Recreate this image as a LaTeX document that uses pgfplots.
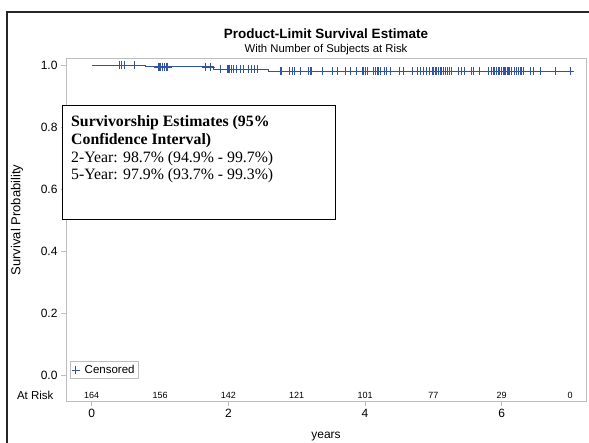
\documentclass[border=0pt]{standalone}
\usepackage{pgfplots}
\pgfplotsset{compat=1.18}
\usepackage{fontspec}
\setmainfont{Liberation Sans}
\newfontfamily\tnr{Liberation Serif}
\definecolor{kmblue}{HTML}{3053A8}
\definecolor{framegray}{HTML}{BDBDBD}
\begin{document}
\begin{tikzpicture}[x=1pt,y=1pt]
\path[use as bounding box] (0,0) rectangle (589,442);
\draw[line width=1.2pt, black!85] (7,-5) -- (7,430) -- (600,430);
\begin{axis}[
  at={(66pt,41pt)}, anchor=south west,
  scale only axis, width=520pt, height=343pt,
  xmin=-0.376, xmax=7.234, ymin=-0.0839, ymax=1.0226,
  axis line style={framegray, line width=0.9pt},
  xtick={0,2,4,6}, ytick={0,0.2,0.4,0.6,0.8,1},
  xtick pos=lower, ytick pos=left,
  tick align=outside, major tick length=5pt,
  tick style={framegray, line width=0.8pt},
  yticklabel style={/pgf/number format/.cd, fixed, fixed zerofill, precision=1},
  /pgf/number format/assume math mode=true,
  ticklabel style={font=\fontsize{12}{14}\selectfont},
  legend style={at={(0.0077,0.065)}, anchor=south west, draw=framegray,
    font=\fontsize{11.5}{13}\selectfont, inner sep=1.5pt},
  legend cell align=left,
]
\addplot[const plot, kmblue, line width=0.9pt, forget plot] table {
t s
0 1
0.79 0.99375
1.78 0.98694
2.58 0.97917
7.00 0.97917
};
\addplot[only marks, mark=+, mark size=4pt, kmblue, mark options={line width=0.8pt}] table {
t s
0.41 1
0.44 1
0.48 1
0.62 1
0.97 0.99375
0.99 0.99375
0.99 0.99375
1.01 0.99375
1.01 0.99375
1.04 0.99375
1.04 0.99375
1.07 0.99375
1.09 0.99375
1.09 0.99375
1.11 0.99375
1.67 0.99375
1.74 0.99375
1.89 0.98694
1.98 0.98694
1.98 0.98694
2.00 0.98694
2.00 0.98694
2.02 0.98694
2.05 0.98694
2.08 0.98694
2.08 0.98694
2.12 0.98694
2.17 0.98694
2.22 0.98694
2.22 0.98694
2.29 0.98694
2.34 0.98694
2.38 0.98694
2.42 0.98694
2.42 0.98694
2.76 0.97917
2.78 0.97917
2.90 0.97917
2.93 0.97917
2.97 0.97917
3.05 0.97917
3.05 0.97917
3.17 0.97917
3.20 0.97917
3.20 0.97917
3.22 0.97917
3.38 0.97917
3.38 0.97917
3.52 0.97917
3.52 0.97917
3.60 0.97917
3.71 0.97917
3.71 0.97917
3.78 0.97917
3.88 0.97917
3.88 0.97917
3.96 0.97917
3.96 0.97917
3.97 0.97917
3.97 0.97917
4.00 0.97917
4.03 0.97917
4.12 0.97917
4.12 0.97917
4.15 0.97917
4.18 0.97917
4.19 0.97917
4.22 0.97917
4.29 0.97917
4.29 0.97917
4.32 0.97917
4.37 0.97917
4.51 0.97917
4.51 0.97917
4.56 0.97917
4.70 0.97917
4.76 0.97917
4.81 0.97917
4.86 0.97917
4.86 0.97917
4.90 0.97917
4.94 0.97917
4.94 0.97917
4.98 0.97917
5.00 0.97917
5.00 0.97917
5.00 0.97917
5.03 0.97917
5.03 0.97917
5.05 0.97917
5.05 0.97917
5.05 0.97917
5.07 0.97917
5.07 0.97917
5.07 0.97917
5.10 0.97917
5.10 0.97917
5.10 0.97917
5.12 0.97917
5.12 0.97917
5.12 0.97917
5.14 0.97917
5.14 0.97917
5.14 0.97917
5.17 0.97917
5.17 0.97917
5.20 0.97917
5.20 0.97917
5.24 0.97917
5.27 0.97917
5.27 0.97917
5.36 0.97917
5.41 0.97917
5.46 0.97917
5.56 0.97917
5.58 0.97917
5.68 0.97917
5.80 0.97917
5.85 0.97917
5.85 0.97917
5.88 0.97917
5.88 0.97917
5.90 0.97917
5.90 0.97917
5.93 0.97917
5.95 0.97917
5.95 0.97917
5.97 0.97917
5.97 0.97917
5.99 0.97917
5.99 0.97917
5.99 0.97917
6.00 0.97917
6.00 0.97917
6.02 0.97917
6.02 0.97917
6.04 0.97917
6.04 0.97917
6.06 0.97917
6.06 0.97917
6.08 0.97917
6.08 0.97917
6.10 0.97917
6.10 0.97917
6.12 0.97917
6.14 0.97917
6.19 0.97917
6.19 0.97917
6.22 0.97917
6.22 0.97917
6.24 0.97917
6.27 0.97917
6.27 0.97917
6.29 0.97917
6.32 0.97917
6.42 0.97917
6.46 0.97917
6.46 0.97917
6.56 0.97917
6.78 0.97917
7.00 0.97917
};
\addlegendentry{\hspace{3pt}Censored}
\foreach \xx/\nn in {0/164,1/156,2/142,3/121,4/101,5/77,6/29,7/0}{
  \edef\tmp{\noexpand\node[font=\noexpand\fontsize{9}{10}\noexpand\selectfont] at (axis cs:\xx,-0.0645) {\nn};}
  \tmp
}
\end{axis}
\draw[black, line width=0.8pt, fill=white] (62,223) rectangle (335,337);
\node[anchor=base west, inner sep=0pt, font=\tnr\bfseries\fontsize{15.8}{17.7}\selectfont] at (71,315.1) {Survivorship Estimates (95\%};
\node[anchor=base west, inner sep=0pt, font=\tnr\bfseries\fontsize{15.8}{17.7}\selectfont] at (71,297.4) {Confidence Interval)};
\node[anchor=base west, inner sep=0pt, font=\tnr\fontsize{15.8}{17.7}\selectfont] at (71,279.7) {2-Year: 98.7\% (94.9\% - 99.7\%)};
\node[anchor=base west, inner sep=0pt, font=\tnr\fontsize{15.8}{17.7}\selectfont] at (71,262.0) {5-Year: 97.9\% (93.7\% - 99.3\%)};
\node[font=\bfseries\fontsize{13.5}{16}\selectfont] at (326,408) {Product-Limit Survival Estimate};
\node[font=\fontsize{11.3}{13}\selectfont] at (326,392) {With Number of Subjects at Risk};
\node[rotate=90, font=\fontsize{13}{15}\selectfont] at (17,222) {Survival Probability};
\node[font=\fontsize{12}{14}\selectfont] at (326,5) {years};
\node[anchor=east, font=\fontsize{11.5}{13}\selectfont] at (57,47) {At Risk};
\end{tikzpicture}
\end{document}
